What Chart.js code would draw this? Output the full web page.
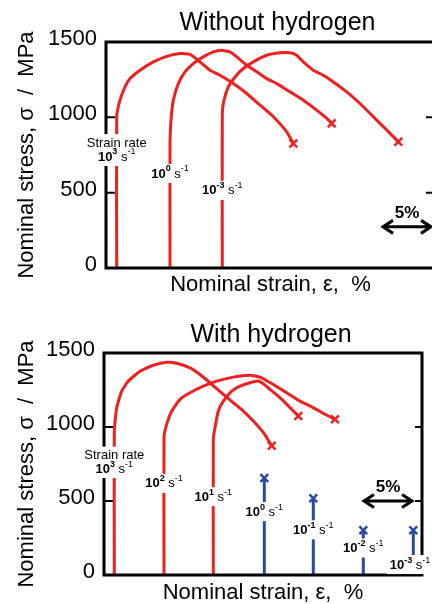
<!DOCTYPE html>
<html>
<head>
<meta charset="utf-8">
<script src="https://cdn.jsdelivr.net/npm/chart.js@4.4.1/dist/chart.umd.min.js"></script>
<style>
  html, body { margin: 0; padding: 0; background: #fff; overflow: hidden; }
  #wrap { width: 432px; height: 604px; overflow: hidden; position: relative; }
  #dry { position: absolute; left: 0; top: 0; }
  #wet { position: absolute; left: 0; top: 300px; }
</style>
</head>
<body>
<div id="wrap">
  <canvas id="dry" width="452" height="300"></canvas>
  <canvas id="wet" width="432" height="304"></canvas>
</div>
<script>
// --- Data (strain in %, curves shifted along x as in the figure; stress in MPa) ---
const stressTicks = [0, 500, 1000, 1500];

// Without hydrogen
const dryStrainA = [1.07, 1.07, 1.4, 1.9, 2.4, 3.4, 4.73, 6.07, 7.4, 8.4, 9.4, 10.4, 11.4, 12.73, 14.07, 15.4, 16.73, 18.07, 18.73];
const dryStressA = [0, 1004, 1114, 1202, 1257, 1313, 1368, 1405, 1423, 1418, 1368, 1313, 1279, 1224, 1158, 1081, 1004, 904, 827];
const dryStrainB = [6.4, 6.4, 6.5, 6.73, 7.23, 7.9, 8.73, 9.73, 10.73, 11.57, 12.4, 13.07, 14.07, 15.07, 16.07, 17.07, 18.4, 19.73, 21.07, 22.07, 22.57];
const dryStressB = [0, 827, 982, 1114, 1224, 1302, 1357, 1401, 1434, 1445, 1434, 1401, 1346, 1302, 1257, 1224, 1169, 1114, 1048, 993, 960];
const dryStrainC = [11.63, 11.63, 11.8, 12.23, 12.9, 13.73, 14.73, 16.07, 17.4, 18.4, 19.07, 19.73, 20.73, 21.73, 22.73, 24.07, 25.4, 26.73, 28.07, 29.23];
const dryStressC = [0, 1026, 1114, 1202, 1268, 1324, 1368, 1412, 1429, 1429, 1412, 1368, 1313, 1279, 1235, 1169, 1092, 1004, 916, 838];

const dryRateExp = ['3', '0', '-3'];
const dryLabelStrain = [1.07, 6.4, 11.63];
const dryLabelStress = [737, 624, 512];
const dryHeaderStress = 829;
const dryBarStrain = [27.6, 32.6];
const dryBarStress = [273, 366];

// With hydrogen
const wetStrainA = [1.03, 1.03, 1.27, 1.77, 2.43, 3.6, 4.93, 6.27, 7.27, 8.6, 9.6, 10.6, 11.93, 12.93, 13.93, 14.93, 15.93, 16.77];
const wetStressA = [0, 974, 1131, 1243, 1310, 1377, 1417, 1437, 1431, 1399, 1355, 1299, 1220, 1164, 1108, 1041, 963, 873];
const wetStrainB = [6.0, 6.0, 6.27, 6.77, 7.6, 8.6, 9.93, 11.27, 12.93, 14.6, 15.6, 16.93, 18.27, 19.6, 20.93, 22.1, 23.1];
const wetStressB = [0, 929, 1019, 1108, 1187, 1231, 1276, 1310, 1337, 1350, 1337, 1287, 1231, 1175, 1131, 1086, 1052];
const wetStrainC = [10.93, 10.93, 11.1, 11.43, 11.93, 12.77, 13.6, 14.6, 15.43, 15.93, 16.6, 17.6, 18.6, 19.43];
const wetStressC = [0, 918, 996, 1108, 1175, 1243, 1276, 1299, 1310, 1292, 1254, 1198, 1131, 1075];
const wetBrittleStrain = [16.03, 20.93, 25.93, 30.93];
const wetBrittleStress = [656, 519, 302, 302];

const wetRateExp = ['3', '2', '1', '0', '-1', '-2', '-3'];
const wetLabelStrain = [1.03, 6.0, 10.93, 16.03, 20.93, 25.93, 30.6];
const wetLabelStress = [716, 616, 526, 425, 302, 179, 67];
const wetHeaderStress = 806;
const wetBarStrain = [25.9, 30.9];
const wetBarStress = [500, 595];

// --- Styling ---
const RED = '#ef2020';
const BLUE = '#2a4b9b';
const FONT = '"Liberation Sans", Arial, sans-serif';
Chart.defaults.font.family = FONT;
Chart.defaults.color = '#000';

function curve(strain, stress, color) {
    return {
        data: strain.map((x, i) => ({ x, y: stress[i] })),
        borderColor: color,
        borderWidth: 3,
        tension: 0.15,
        pointStyle: 'crossRot',
        pointRadius: strain.map((_, i) => i === strain.length - 1 ? 5.5 : 0),
        pointBorderColor: color,
        pointBorderWidth: 2.5
    };
}

function brittle(strain, stress) {
    return strain.map((x, i) => curve([x, x], [0, stress[i]], BLUE));
}

// "10^n s^-1" label with a white patch behind it
function rateLabel(ctx, cx, cy, exp) {
    const parts = [
        ['10', 'bold 13px ' + FONT, 0],
        [exp, 'bold 9px ' + FONT, -5],
        [' s', '13px ' + FONT, 0],
        ['-1', '9px ' + FONT, -5]
    ];
    let total = 0;
    parts.forEach(p => { ctx.font = p[1]; p.push(ctx.measureText(p[0]).width); total += p[3]; });
    ctx.fillStyle = '#fff';
    ctx.fillRect(cx - total / 2 - 3, cy - 10, total + 6, 19);
    ctx.fillStyle = '#000';
    ctx.textAlign = 'left';
    ctx.textBaseline = 'middle';
    let x = cx - total / 2;
    parts.forEach(p => { ctx.font = p[1]; ctx.fillText(p[0], x, cy + p[2]); x += p[3]; });
}

const decor = {
    id: 'decor',
    afterDraw(chart, args, opts) {
        const { ctx, chartArea: a, scales: { x, y } } = chart;
        ctx.save();

        // panel title
        ctx.fillStyle = '#000';
        ctx.font = '25px ' + FONT;
        ctx.textAlign = 'center';
        ctx.textBaseline = 'middle';
        ctx.fillText(opts.title, (a.left + a.right) / 2 + opts.titleShift, opts.titleY);

        // box + inward ticks
        ctx.strokeStyle = '#000';
        ctx.lineWidth = 3;
        ctx.strokeRect(a.left, a.top, a.right - a.left, a.bottom - a.top);
        ctx.lineWidth = 2;
        stressTicks.forEach(v => {
            const py = y.getPixelForValue(v);
            ctx.beginPath();
            ctx.moveTo(a.left, py); ctx.lineTo(a.left + 9, py);
            ctx.moveTo(a.right, py); ctx.lineTo(a.right - opts.rightTick, py);
            ctx.stroke();
        });

        // strain rate labels
        const hx = x.getPixelForValue(opts.labelStrain[0]);
        const hy = y.getPixelForValue(opts.headerStress);
        ctx.font = '13px ' + FONT;
        const hw = ctx.measureText('Strain rate').width;
        ctx.fillStyle = '#fff';
        ctx.fillRect(hx - hw / 2 - 3, hy - 9, hw + 6, 18);
        ctx.fillStyle = '#000';
        ctx.fillText('Strain rate', hx, hy);
        opts.rateExp.forEach((e, i) => {
            rateLabel(ctx, x.getPixelForValue(opts.labelStrain[i]), y.getPixelForValue(opts.labelStress[i]), e);
        });

        // 5% scale bar
        const x1 = x.getPixelForValue(opts.barStrain[0]);
        const x2 = x.getPixelForValue(opts.barStrain[1]);
        const by = y.getPixelForValue(opts.barStress[0]);
        ctx.lineWidth = 3;
        ctx.beginPath();
        ctx.moveTo(x1 + 1, by); ctx.lineTo(x2 - 1, by);
        ctx.moveTo(x1 + 11, by - 6.5); ctx.lineTo(x1 + 1, by); ctx.lineTo(x1 + 11, by + 6.5);
        ctx.moveTo(x2 - 11, by - 6.5); ctx.lineTo(x2 - 1, by); ctx.lineTo(x2 - 11, by + 6.5);
        ctx.stroke();
        ctx.font = 'bold 17px ' + FONT;
        ctx.textAlign = 'center';
        ctx.fillText('5%', (x1 + x2) / 2, y.getPixelForValue(opts.barStress[1]));

        ctx.restore();
    }
};

function panelOptions(xMax, yWidth, padTop, padRight, xTitlePad, deco) {
    return {
        responsive: false,
        animation: false,
        events: [],
        layout: { padding: { top: padTop, right: padRight, left: 0, bottom: 0 } },
        plugins: { legend: { display: false }, tooltip: { enabled: false }, decor: deco },
        scales: {
            x: {
                type: 'linear', min: 0, max: xMax,
                grid: { display: false, drawTicks: false },
                border: { display: false },
                ticks: { display: false },
                title: {
                    display: true, text: 'Nominal strain, ε,  %',
                    font: { size: 22, lineHeight: 1 }, padding: xTitlePad
                }
            },
            y: {
                min: 0, max: 1500,
                afterFit: s => { s.width = yWidth; },
                afterBuildTicks: s => { s.ticks = stressTicks.map(v => ({ value: v })); },
                grid: { display: false, drawTicks: false },
                border: { display: false },
                ticks: { font: { size: 22 }, padding: 9, labelOffset: -3, callback: v => String(v) },
                title: {
                    display: true, text: 'Nominal stress, σ  /  MPa',
                    font: { size: 22, lineHeight: 1 }, padding: { top: 16, bottom: 0 }
                }
            }
        }
    };
}

new Chart(document.getElementById('dry'), {
    type: 'line',
    data: {
        datasets: [
            curve(dryStrainA, dryStressA, RED),
            curve(dryStrainB, dryStressB, RED),
            curve(dryStrainC, dryStressC, RED)
        ]
    },
    options: panelOptions(32.9, 106, 42, 17, { top: 6, bottom: 4 }, {
        title: 'Without hydrogen', titleY: 23, titleShift: 7, rightTick: 9,
        rateExp: dryRateExp, labelStrain: dryLabelStrain, labelStress: dryLabelStress,
        headerStress: dryHeaderStress, barStrain: dryBarStrain, barStress: dryBarStress
    }),
    plugins: [decor]
});

new Chart(document.getElementById('wet'), {
    type: 'line',
    data: {
        datasets: [
            curve(wetStrainA, wetStressA, RED),
            curve(wetStrainB, wetStressB, RED),
            curve(wetStrainC, wetStressC, RED),
            ...brittle(wetBrittleStrain, wetBrittleStress)
        ]
    },
    options: panelOptions(31.8, 104, 53, 10, { top: 7, bottom: 0 }, {
        title: 'With hydrogen', titleY: 35, titleShift: 8, rightTick: 7,
        rateExp: wetRateExp, labelStrain: wetLabelStrain, labelStress: wetLabelStress,
        headerStress: wetHeaderStress, barStrain: wetBarStrain, barStress: wetBarStress
    }),
    plugins: [decor]
});
</script>
</body>
</html>
